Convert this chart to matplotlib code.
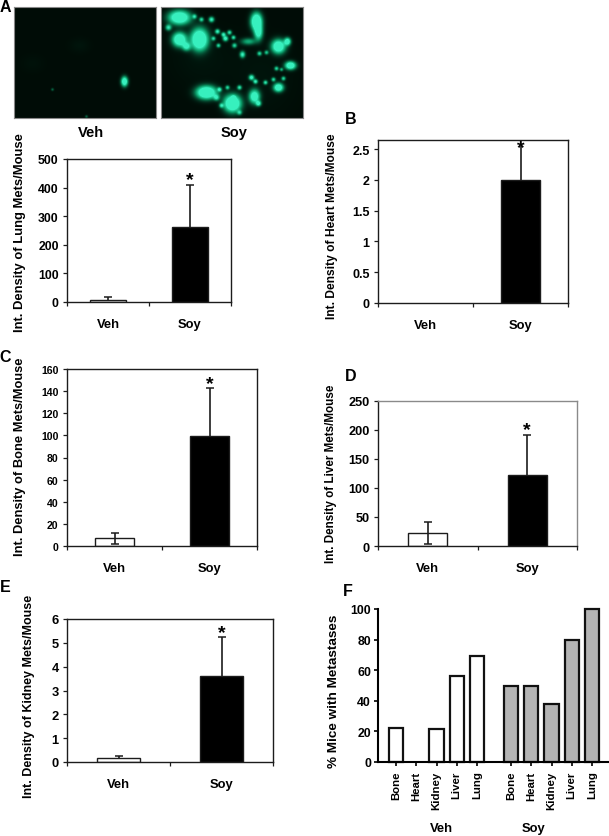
import numpy as np
import matplotlib
matplotlib.use("Agg")
import matplotlib.pyplot as plt
from matplotlib.transforms import ScaledTranslation

plt.rcParams['font.family'] = ['Liberation Sans', 'DejaVu Sans']
plt.rcParams['font.weight'] = 'bold'

W, H = 609, 837
DARK = '#1c1c1c'

categories = ['Veh', 'Soy']

lung_vals = [8, 263];  lung_low = [0, 0];  lung_up = [9, 145];  lung_ticks = [0, 100, 200, 300, 400, 500]
heart_vals = [0, 2.0]; heart_low = [0, 0]; heart_up = [0, 0.55]; heart_ticks = [0, 0.5, 1, 1.5, 2, 2.5]
bone_vals = [7, 99];   bone_low = [5, 0];  bone_up = [4.5, 44]; bone_ticks = [0, 20, 40, 60, 80, 100, 120, 140, 160]
liver_vals = [23, 122]; liver_low = [19, 0]; liver_up = [19, 70]; liver_ticks = [0, 50, 100, 150, 200, 250]
kidney_vals = [0.15, 3.6]; kidney_low = [0, 0]; kidney_up = [0.1, 1.65]; kidney_ticks = [0, 1, 2, 3, 4, 5, 6]

organs = ['Bone', 'Heart', 'Kidney', 'Liver', 'Lung']
mice_veh = [22, 0, 21.5, 56, 69]
mice_soy = [50, 50, 38, 80, 100]
mice_ticks = [0, 20, 40, 60, 80, 100]

# micrograph spots: x, y, sx, sy, strength (image pixels)
veh_spots = [(110, 74, 2.2, 3.2, 1.5), (38, 82, 1.0, 1.0, 0.3), (72, 109, 1.0, 1.0, 0.3),
             (65, 38, 7, 5, 0.03), (18, 56, 8, 6, 0.02)]
soy_spots = [(18, 10, 7, 4.5, 1.7), (7, 20, 2, 2, 0.9), (18, 32, 4.5, 4.5, 1.7), (38, 32, 5.5, 7, 1.9),
             (25, 39, 2.8, 2.8, 1.0), (95, 14, 3.6, 5.5, 1.9), (97, 25, 2.8, 5, 1.2), (87, 34, 5, 2.3, 0.6),
             (117, 39, 4.5, 4.5, 1.6), (126, 34, 2.2, 2.5, 1.3), (81, 47, 1.8, 2.2, 1.0), (129, 58, 3.5, 2.6, 1.6),
             (117, 80, 3.2, 2.8, 1.5), (45, 85, 6.5, 4.2, 1.9), (71, 96, 5.5, 5.5, 1.9), (93, 89, 3.5, 4.5, 1.4),
             (78, 105, 1.6, 1.6, 0.7), (55, 90, 2, 2, 0.8),
             (33, 9, 1.5, 1.5, 0.8), (40, 12, 1.5, 1.5, 0.8), (50, 12, 1.8, 1.8, 1.0), (56, 24, 1.6, 1.6, 1.0),
             (62, 27, 1.5, 1.5, 1.0), (68, 25, 1.5, 1.5, 0.9), (64, 31, 1.8, 1.8, 1.1), (72, 30, 1.4, 1.4, 0.9),
             (52, 31, 1.4, 1.4, 0.8), (57, 38, 1.4, 1.4, 0.8), (73, 38, 1.6, 1.6, 0.8), (98, 46, 1.5, 1.5, 0.8),
             (105, 45, 1.4, 1.4, 0.7), (115, 61, 1.4, 1.4, 0.8), (90, 70, 1.8, 1.8, 1.1), (94, 74, 1.5, 1.5, 1.0),
             (104, 75, 1.4, 1.4, 0.9), (112, 72, 1.4, 1.4, 0.8), (122, 71, 1.4, 1.4, 0.8), (120, 62, 1.2, 1.2, 0.6),
             (58, 82, 1.5, 1.5, 0.9), (66, 80, 1.4, 1.4, 0.8), (78, 80, 1.5, 1.5, 0.9), (72, 90, 1.4, 1.4, 0.8),
             (60, 98, 1.5, 1.5, 0.8), (97, 96, 1.8, 1.8, 1.0), (40, 50, 20, 20, 0.03), (100, 70, 22, 25, 0.03)]


def fig_axes(l, t, r, b):
    return fig.add_axes([l / W, 1 - b / H, (r - l) / W, (b - t) / H])


def ftext(x, y, s, **kw):
    fig.text(x / W, 1 - y / H, s, **kw)


def micrograph(box, spots):
    ax = fig_axes(*box)
    nx, ny = 142, 111
    yy, xx = np.mgrid[0:ny, 0:nx]
    f = np.zeros((ny, nx))
    for x, y, sx, sy, a in spots:
        f += a * np.exp(-((xx - x) ** 2 / (2 * sx ** 2) + (yy - y) ** 2 / (2 * sy ** 2)))
    f = np.clip(f, 0, 1)[..., None]
    bg = np.array([0, 12, 6]) / 255
    fg = np.array([55, 240, 190]) / 255
    mid = np.array([10, 150, 100]) / 255
    img = np.where(f < 0.5, bg + (mid - bg) * f * 2, mid + (fg - mid) * (f - 0.5) * 2)
    ax.imshow(img, aspect='auto', interpolation='bilinear')
    ax.set_xticks([]); ax.set_yticks([])
    for s in ax.spines.values():
        s.set_color('#888888'); s.set_linewidth(0.8)


def bar_panel(box, vals, low, up, yticks, ylim, width, ylabel, ylab_xy, ticklabels=None,
              capsize=3, fs=8.8, star_dy=0, top_color=DARK, ylab_fs=9.4):
    ax = fig_axes(*box)
    x = np.arange(len(vals))
    ax.bar(x, vals, width=width, color=['white', 'black'], edgecolor=DARK,
           linewidth=[1.0 if v > 0 else 0 for v in vals])
    for i in x:
        if up[i] > 0 or low[i] > 0:
            _, caps, _ = ax.errorbar(i, vals[i], yerr=[[low[i]], [up[i]]], color=DARK, elinewidth=1.2,
                                     capsize=capsize, capthick=1.1, fmt='none', zorder=3)
            if caps and low[i] == 0:
                caps[0].set_visible(False)
    ax.text(1, vals[1] + up[1], '*', ha='center', va='center', fontsize=14,
            transform=ax.transData + ScaledTranslation(0, star_dy / 100, fig.dpi_scale_trans))
    ax.set_xlim(-0.5, 1.5)
    ax.set_ylim(*ylim)
    ax.set_yticks(yticks)
    if ticklabels:
        ax.set_yticklabels(ticklabels)
    ax.set_xticks([0, 1])
    ax.set_xticklabels(categories, fontsize=9.4)
    ax.tick_params(axis='x', which='major', length=0, pad=11.5)
    ax.set_xticks([-0.5, 0.5, 1.5], minor=True)
    ax.tick_params(axis='x', which='minor', length=3, width=0.9, color=DARK)
    ax.tick_params(axis='y', length=3, width=0.9, color=DARK, labelsize=fs, pad=3)
    for s in ax.spines.values():
        s.set_color(DARK); s.set_linewidth(1.0)
    ax.spines['top'].set_color(top_color)
    ax.spines['right'].set_color(top_color)
    ftext(ylab_xy[0], ylab_xy[1], ylabel, rotation=90, ha='center', va='center', fontsize=ylab_fs)
    return ax


fig = plt.figure(figsize=(W / 100, H / 100), dpi=100, facecolor='white')

micrograph((14, 8, 156, 119), veh_spots)
micrograph((161, 8, 303, 119), soy_spots)
ftext(91, 133, 'Veh', ha='center', va='center', fontsize=10.5)
ftext(234, 133, 'Soy', ha='center', va='center', fontsize=10.5)

bar_panel((67, 160, 231, 303), lung_vals, lung_low, lung_up, lung_ticks, (0, 500), 0.43,
          'Int. Density of Lung Mets/Mouse', (20, 233), star_dy=6)
bar_panel((378, 141, 568, 304), heart_vals, heart_low, heart_up, heart_ticks, (0, 2.65), 0.41,
          'Int. Density of Heart Mets/Mouse', (332, 226), ticklabels=['0', '0.5', '1', '1.5', '2', '2.5'],
          capsize=0, star_dy=-1, fs=9, ylab_fs=8.65)
bar_panel((67, 370, 257, 547), bone_vals, bone_low, bone_up, bone_ticks, (0, 160), 0.41,
          'Int. Density of Bone Mets/Mouse', (20, 457), star_dy=4, fs=7.6, ylab_fs=9.25)
bar_panel((378, 402, 577, 547), liver_vals, liver_low, liver_up, liver_ticks, (0, 250), 0.39,
          'Int. Density of Liver Mets/Mouse', (331, 474), star_dy=5, top_color='#8a8a8a', fs=9.2, ylab_fs=8.4)
bar_panel((67, 620, 273, 763), kidney_vals, kidney_low, kidney_up, kidney_ticks, (0, 6), 0.41,
          'Int. Density of Kidney Mets/Mouse', (29, 696), star_dy=4, fs=9.3, ylab_fs=9.0)

axf = fig_axes(378, 610, 608, 763)
gap = 0.7
pos_veh = np.arange(5)
pos_soy = np.arange(5) + 5 + gap
axf.bar(pos_veh, mice_veh, width=0.7, color='white', edgecolor='#111111',
        linewidth=[1.6 if v > 0 else 0 for v in mice_veh], clip_on=False)
axf.bar(pos_soy, mice_soy, width=0.7, color='#b4b4b4', edgecolor='#111111', linewidth=1.6, clip_on=False)
axf.set_xlim(-0.9, 10.5)
axf.set_ylim(0, 100)
axf.set_yticks(mice_ticks)
axf.set_xticks(np.r_[pos_veh, pos_soy])
axf.set_xticklabels(organs + organs, rotation=90, fontsize=8.2)
axf.tick_params(axis='x', length=3, width=1.2, pad=3)
axf.tick_params(axis='y', length=3, width=1.2, labelsize=8.8, pad=2)
axf.spines['top'].set_visible(False)
axf.spines['right'].set_visible(False)
axf.spines['left'].set_linewidth(1.5)
axf.spines['bottom'].set_linewidth(1.5)
ftext(334, 691, '% Mice with Metastases', rotation=90, ha='center', va='center', fontsize=9.7)
ftext(441, 829, 'Veh', ha='center', va='center', fontsize=9.4)
ftext(534, 829, 'Soy', ha='center', va='center', fontsize=9.4)

for s, x, y in [('A', 5, 8), ('B', 351, 120), ('C', 5, 358), ('D', 351, 377), ('E', 5, 587), ('F', 348, 592)]:
    ftext(x, y, s, ha='center', va='center', fontsize=11.5)

fig.savefig('out.png', dpi=100)
